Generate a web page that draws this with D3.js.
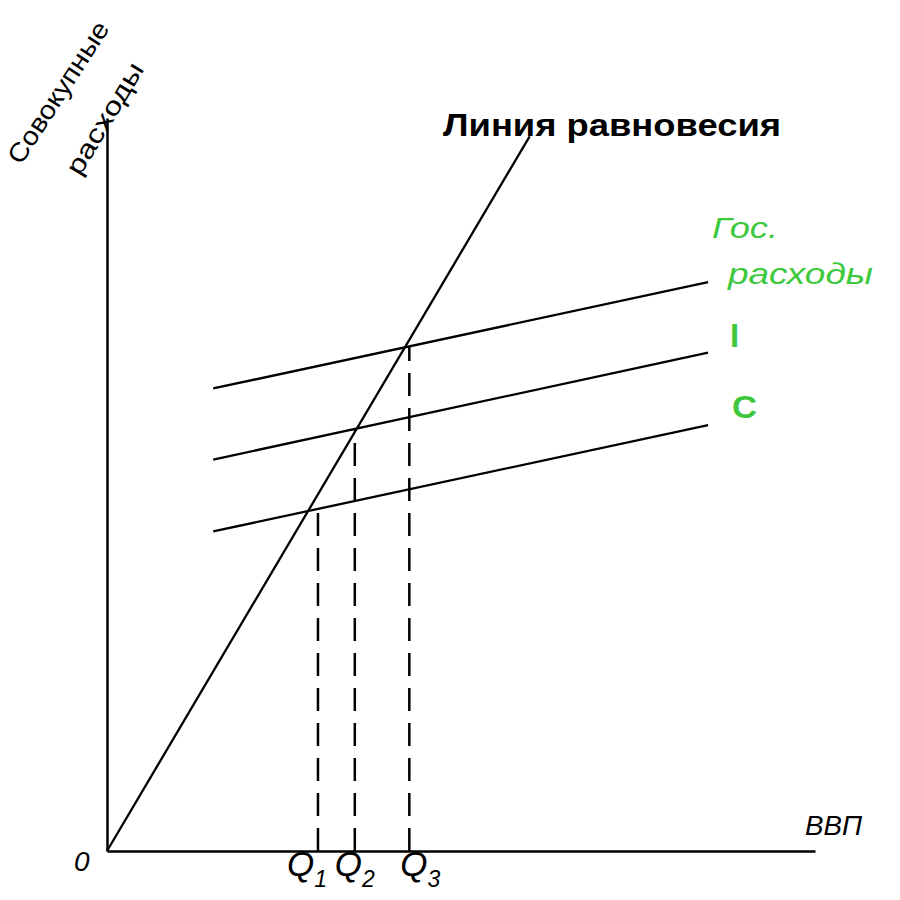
<!DOCTYPE html>
<html><head><meta charset="utf-8">
<script src="https://cdn.jsdelivr.net/npm/d3@7"></script>
<style>body{margin:0;background:#fff}</style>
</head><body>
<svg id="c" width="900" height="900"></svg>
<script>
// ---- data (chart units) ----
const lineNames = ["C", "I", "Гос. расходы"];
const lineStartX = [15.0, 15.0, 15.0];
const lineEndX = [84.9, 84.9, 84.9];
const lineStartY = [43.6, 53.4, 63.1];
const lineEndY = [58.1, 68.0, 77.6];
const equilibrium = [[0, 0], [59.7, 97.5]];
const qLabels = ["1", "2", "3"];
const qValues = [29.8, 35.0, 42.7];
const qLine = [0, 1, 2]; // dashed line i rises to line qLine[i]

// ---- layout ----
const qLabelDx = [-31, -20, -9];
const green = "#3dc83d";
const svg = d3.select("#c");
const x = d3.scaleLinear().domain([0, 100]).range([107, 815]);
const y = d3.scaleLinear().domain([0, 100]).range([851, 118]);

// axes (no ticks)
svg.append("g").attr("transform", `translate(0,${y(0)})`)
  .call(d3.axisBottom(x).ticks(0).tickSizeOuter(0))
  .select(".domain").attr("stroke", "#000").attr("stroke-width", 2.5);
svg.append("g").attr("transform", `translate(${x(0)},0)`)
  .call(d3.axisLeft(y).ticks(0).tickSizeOuter(0))
  .select(".domain").attr("stroke", "#000").attr("stroke-width", 2.5);

const line = d3.line().x(d => x(d[0])).y(d => y(d[1]));

// dashed lines
qValues.forEach((q, i) => {
  const k = qLine[i];
  const t = (q - lineStartX[k]) / (lineEndX[k] - lineStartX[k]);
  const top = lineStartY[k] + t * (lineEndY[k] - lineStartY[k]);
  svg.append("path").attr("d", line([[q, 0], [q, top]]))
    .attr("stroke", "#000").attr("stroke-width", 2.5).attr("fill", "none")
    .attr("stroke-dasharray", "23,12");
});

// parallel lines
lineNames.forEach((n, i) => {
  svg.append("path").attr("d", line([[lineStartX[i], lineStartY[i]], [lineEndX[i], lineEndY[i]]]))
    .attr("stroke", "#000").attr("stroke-width", 2.3).attr("fill", "none");
});

// equilibrium
svg.append("path").attr("d", line(equilibrium))
  .attr("stroke", "#000").attr("stroke-width", 2.3).attr("fill", "none");

const font = "Liberation Sans, Arial, sans-serif";
function txt(sel, s, size, len) {
  const t = sel.append("text").text(s).attr("font-family", font).attr("font-size", size);
  if (len) t.attr("textLength", len).attr("lengthAdjust", "spacingAndGlyphs");
  return t;
}
// labels
txt(svg, "Линия равновесия", 31, 338).attr("x", 443).attr("y", 136)
  .attr("font-weight", "bold").attr("fill", "#000");

txt(svg, "Гос.", 30, 66).attr("x", 712).attr("y", 238)
  .attr("font-style", "italic").attr("fill", green);
txt(svg, "расходы", 30, 145).attr("x", 728).attr("y", 284)
  .attr("font-style", "italic").attr("fill", green);
txt(svg, "I", 33).attr("x", 730).attr("y", 347)
  .attr("font-weight", "bold").attr("fill", green);
txt(svg, "C", 32, 25).attr("x", 732).attr("y", 418)
  .attr("font-weight", "bold").attr("fill", green);

// y label (rotated)
txt(svg, "Совокупные", 26, 164).attr("transform", "translate(21,166) rotate(-57)").attr("fill", "#000");
txt(svg, "расходы", 26, 126).attr("transform", "translate(80,177) rotate(-59)").attr("fill", "#000");

// origin & x label
txt(svg, "0", 28).attr("x", 74).attr("y", 871).attr("font-style", "italic");
txt(svg, "ВВП", 27, 57).attr("x", 805).attr("y", 835).attr("font-style", "italic");

// Q labels
qValues.forEach((q, i) => {
  const t = svg.append("text").attr("x", x(q) + qLabelDx[i]).attr("y", 876)
    .attr("font-family", font).attr("font-style", "italic").attr("fill", "#000");
  t.append("tspan").attr("font-size", 35).text("Q");
  t.append("tspan").attr("font-size", 23).attr("dy", 11).attr("dx", 0).text(qLabels[i]);
});
</script>
</body></html>
